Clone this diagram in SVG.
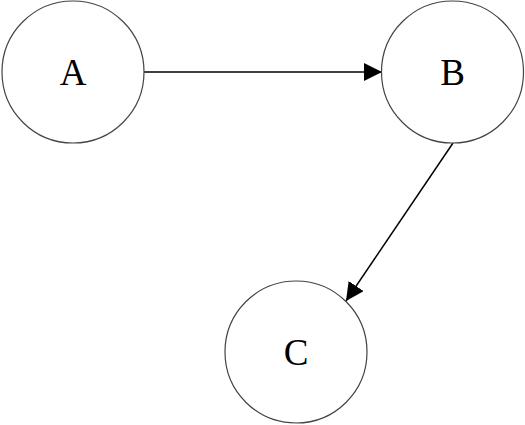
<svg xmlns="http://www.w3.org/2000/svg" width="525" height="425" viewBox="0 0 525 425">
<style>
.node circle{fill:#fff;stroke:#444;stroke-width:1.2}
.node text{font-family:"Liberation Serif",serif;font-size:37px;fill:#000;text-anchor:middle;dominant-baseline:central}
.edge{stroke:#000;stroke-width:1.5;fill:none}
</style>
<defs>
<marker id="arr" viewBox="0 0 18 18" refX="18" refY="9" markerWidth="18" markerHeight="18" markerUnits="userSpaceOnUse" orient="auto">
<path d="M0,0 L18,9 L0,18 Z" fill="#000"/>
</marker>
</defs>
<rect width="525" height="425" fill="#fff"/>
<g id="connectors">
<line class="edge" x1="144" y1="72" x2="382" y2="72" marker-end="url(#arr)"/>
<line class="edge" x1="453" y1="143" x2="346" y2="301" marker-end="url(#arr)"/>
</g>
<g id="A" class="node"><circle cx="73" cy="72" r="71"/><text x="73" y="72">A</text></g>
<g id="B" class="node"><circle cx="452.5" cy="72" r="71"/><text x="452.5" y="72">B</text></g>
<g id="C" class="node"><circle cx="296" cy="352" r="71"/><text x="296" y="352">C</text></g>
</svg>
